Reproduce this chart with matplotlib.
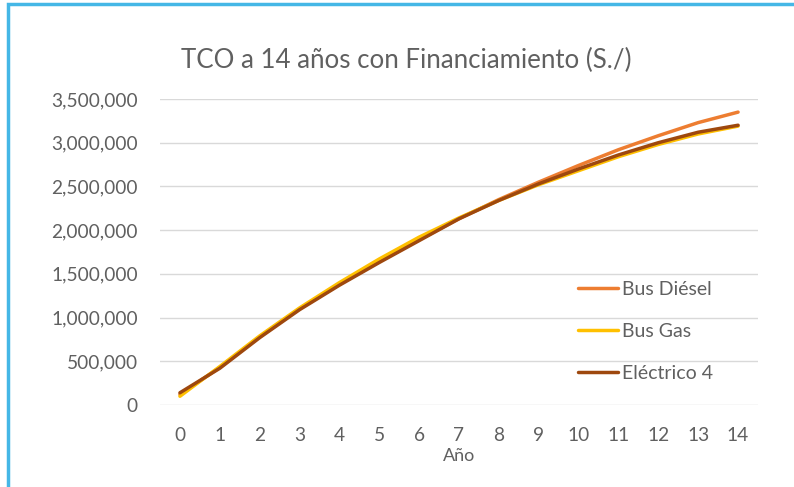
import matplotlib.pyplot as plt
from matplotlib.patches import Rectangle

plt.rcParams["font.family"] = ["Lato", "DejaVu Sans"]

# data
years = list(range(15))
bus_diesel = [120000, 430000, 780000, 1100000, 1380000, 1640000, 1890000, 2130000,
              2350000, 2550000, 2740000, 2920000, 3080000, 3230000, 3350000]
bus_gas = [100000, 440000, 790000, 1110000, 1400000, 1670000, 1920000, 2140000,
           2340000, 2520000, 2680000, 2840000, 2980000, 3100000, 3190000]
electrico4 = [140000, 420000, 770000, 1090000, 1370000, 1630000, 1880000, 2130000,
              2340000, 2530000, 2700000, 2860000, 3000000, 3120000, 3200000]
yticks = [0, 500000, 1000000, 1500000, 2000000, 2500000, 3000000, 3500000]

text_col = "#606060"
grid_col = "#D9D9D9"

fig = plt.figure(figsize=(7.94, 4.87), dpi=100)
ax = fig.add_axes([160 / 794, 1 - 405 / 487, (758 - 160) / 794, (405 - 99) / 487])

ax.plot(years, bus_diesel, color="#ED7D31", lw=2.5, label="Bus Diésel", solid_capstyle="round")
ax.plot(years, bus_gas, color="#FFC000", lw=2.5, label="Bus Gas", solid_capstyle="round")
ax.plot(years, electrico4, color="#9E480E", lw=2.5, label="Eléctrico 4", solid_capstyle="round")

ax.set_xlim(-0.5, 14.5)
ax.set_ylim(0, 3500000)
ax.set_xticks(years)
ax.set_yticks(yticks)
ax.set_yticklabels([f"{v:,}" for v in yticks])
ax.tick_params(length=0, labelsize=13.8, labelcolor=text_col)
ax.tick_params(axis="x", pad=16)
ax.tick_params(axis="y", pad=16)
ax.grid(axis="y", color=grid_col, lw=1)
ax.set_axisbelow(True)
for s in ax.spines.values():
    s.set_visible(False)

fig.text(459 / 794, 1 - 456 / 487, "Año", ha="center", va="center", fontsize=13, color=text_col)
fig.text(406 / 794, 1 - 60 / 487, "TCO a 14 años con Financiamiento (S./)", ha="center",
         va="center", fontsize=18.6, color=text_col)

leg = ax.legend(loc="upper left", bbox_to_anchor=(578 / 794, 1 - 281 / 487),
                bbox_transform=fig.transFigure, frameon=False, fontsize=14,
                borderpad=0, borderaxespad=0, handlelength=2.06, handletextpad=0.2,
                labelspacing=1.29)
for t in leg.get_texts():
    t.set_color(text_col)

# blue frame around the chart
fig.patches.append(Rectangle((8 / 794, -0.1), 1.2, 1 - 4 / 487 + 0.1, transform=fig.transFigure,
                             fill=False, edgecolor="#45B7E6", lw=2.5, figure=fig))

fig.savefig("out.png", dpi=100)
